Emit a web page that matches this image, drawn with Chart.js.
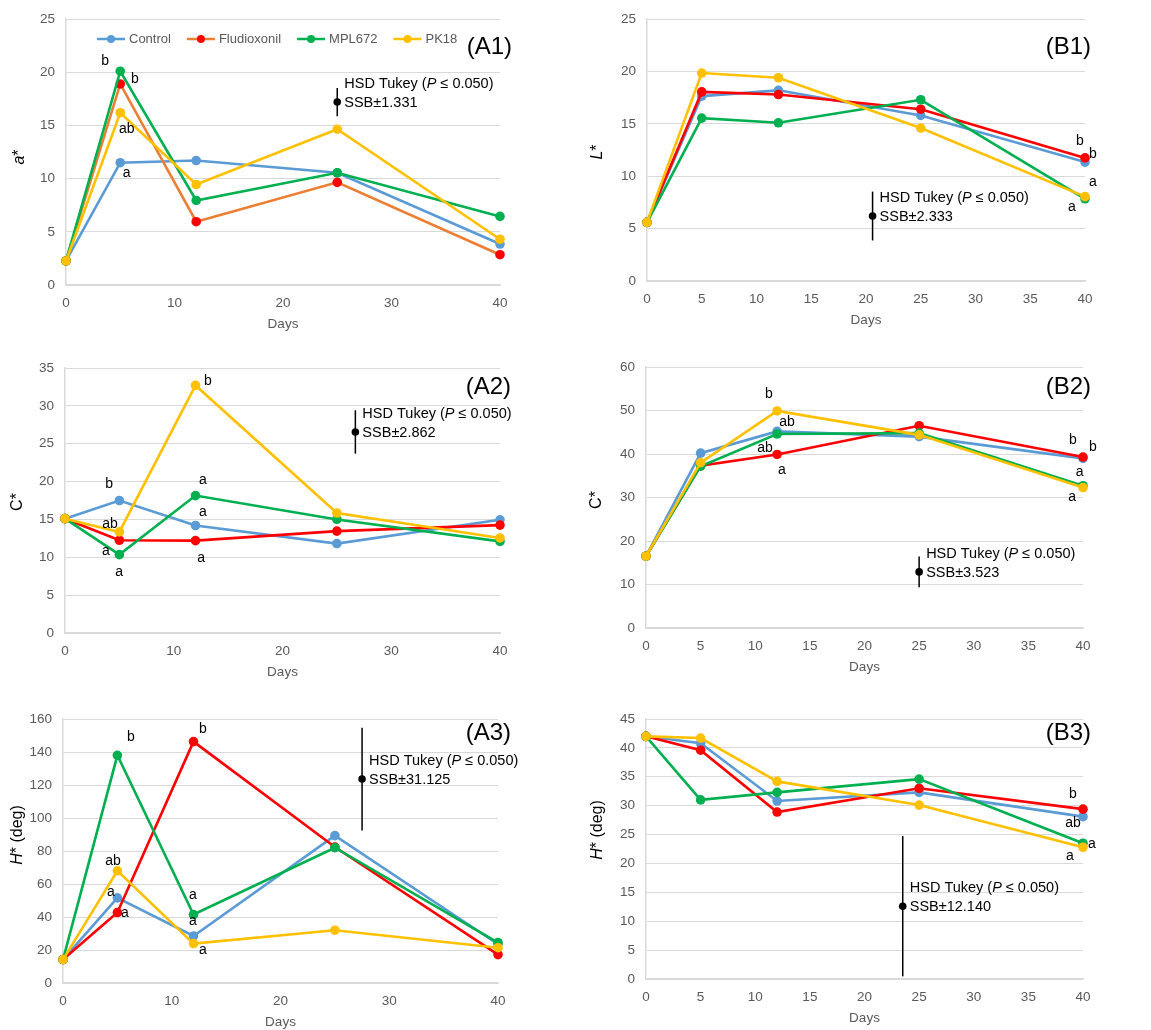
<!DOCTYPE html>
<html>
<head>
<meta charset="utf-8">
<script src="https://cdn.jsdelivr.net/npm/chart.js@4.4.1/dist/chart.umd.min.js"></script>
<style>
  html, body { margin: 0; padding: 0; background: #fff; }
  #fig { position: relative; width: 1151px; height: 1030px; background: #fff; overflow: hidden; }
  #fig canvas { position: absolute; }
</style>
</head>
<body>
<div id="fig"></div>
<script>
// Sampling days and treatments
const days = [0, 5, 12, 25, 40];
const treatments = ['Control', 'Fludioxonil', 'MPL672', 'PK18'];

// (A1) a*
const a_control     = [2.26, 11.5, 11.7, 10.55, 3.85];
const a_fludioxonil = [2.26, 18.9, 5.95, 9.65, 2.85];
const a_mpl672      = [2.26, 20.1, 7.95, 10.55, 6.45];
const a_pk18        = [2.26, 16.2, 9.45, 14.65, 4.3];

// (B1) L*
const l_control     = [5.6, 17.65, 18.2, 15.8, 11.35];
const l_fludioxonil = [5.6, 18.05, 17.8, 16.4, 11.75];
const l_mpl672      = [5.6, 15.55, 15.1, 17.3, 7.85];
const l_pk18        = [5.6, 19.85, 19.4, 14.6, 8.05];

// (A2) C*
const ca_control     = [15.1, 17.5, 14.2, 11.8, 14.95];
const ca_fludioxonil = [15.1, 12.25, 12.2, 13.45, 14.25];
const ca_mpl672      = [15.1, 10.35, 18.15, 15.0, 12.1];
const ca_pk18        = [15.1, 13.35, 32.7, 15.85, 12.55];

// (B2) C*
const cb_control     = [16.5, 40.2, 45.2, 44.0, 39.0];
const cb_fludioxonil = [16.5, 37.3, 39.9, 46.5, 39.3];
const cb_mpl672      = [16.5, 37.2, 44.6, 44.8, 32.7];
const cb_pk18        = [16.5, 38.0, 49.9, 44.4, 32.3];

// (A3) H* (deg)
const ha_control     = [14.2, 51.6, 28.5, 89.3, 23.5];
const ha_fludioxonil = [14.2, 42.7, 146.3, 82.4, 17.2];
const ha_mpl672      = [14.2, 138.0, 41.5, 82.0, 24.5];
const ha_pk18        = [14.2, 68.0, 23.9, 32.0, 21.4];

// (B3) H* (deg)
const hb_control     = [42.0, 40.8, 30.8, 32.3, 28.1];
const hb_fludioxonil = [42.0, 39.6, 28.9, 33.0, 29.4];
const hb_mpl672      = [42.0, 31.0, 32.3, 34.6, 23.5];
const hb_pk18        = [42.0, 41.7, 34.2, 30.1, 22.8];

// Panel order: A1, B1, A2, B2, A3, B3
const panelTags = ['(A1)', '(B1)', '(A2)', '(B2)', '(A3)', '(B3)'];
const yMaxima   = [25, 25, 35, 60, 160, 45];
const yStepsPer = [5, 5, 5, 10, 20, 5];
const xStepsPer = [10, 5, 10, 5, 10, 5];

// HSD Tukey (P <= 0.050) reference bars: position (day, value) and SSB half-width
const hsdDay  = [25, 20.6, 26.7, 25, 27.5, 23.5];
const hsdMean = [17.2, 6.2, 26.55, 12.9, 123.6, 12.6];
const ssb     = [1.331, 2.333, 2.862, 3.523, 31.125, 12.140];

// Significance letters: [day, value, letter]
const letters_A1 = [[3.6, 21.05, 'b'], [6.35, 19.35, 'b'], [5.6, 14.65, 'ab'], [5.6, 10.55, 'a']];
const letters_B1 = [[39.54, 13.36, 'b'], [40.73, 12.12, 'b'], [40.73, 9.45, 'a'], [38.8, 7.06, 'a']];
const letters_A2 = [[13.15, 33.3, 'b'], [4.05, 19.68, 'b'], [4.14, 14.4, 'ab'], [3.77, 10.83, 'a'],
                    [4.97, 8.06, 'a'], [12.69, 20.2, 'a'], [12.69, 15.98, 'a'], [12.51, 9.9, 'a']];
const letters_B2 = [[11.26, 53.8, 'b'], [12.9, 47.4, 'ab'], [10.9, 41.4, 'ab'], [12.45, 36.3, 'a'],
                    [39.08, 43.2, 'b'], [40.9, 41.6, 'b'], [39.7, 35.9, 'a'], [39.0, 30.1, 'a']];
const letters_A3 = [[6.25, 149.1, 'b'], [12.87, 153.9, 'b'], [4.6, 73.9, 'ab'], [4.41, 55.2, 'a'],
                    [5.7, 42.4, 'a'], [11.95, 53.3, 'a'], [11.95, 37.6, 'a'], [12.87, 20, 'a']];
const letters_B3 = [[39.08, 32.0, 'b'], [39.08, 27.0, 'ab'], [40.82, 23.4, 'a'], [38.8, 21.3, 'a']];

// ---------------------------------------------------------------------------
const FONT = '"Liberation Sans", Arial, Helvetica, sans-serif';
const seriesColors = ['#5B9BD5', '#FF0000', '#00B050', '#FFC000'];
const GRID = '#D9D9D9';
const TICK = '#595959';

// Layout of each panel: canvas cell and plot rectangle (page pixels)
const layout = [
  { cell: [0, 0, 575, 340],      plot: [66, 19, 500, 285],    tag: [512, 47],   ytitle: [20, 157] },
  { cell: [575, 0, 576, 340],    plot: [647, 19, 1085, 281],  tag: [1091, 47],  ytitle: [598, 152] },
  { cell: [0, 330, 575, 355],    plot: [65, 368, 500, 633],   tag: [511, 387],  ytitle: [18, 502] },
  { cell: [575, 330, 576, 355],  plot: [646, 367, 1083, 628], tag: [1091, 387], ytitle: [597, 500] },
  { cell: [0, 670, 575, 360],    plot: [63, 719, 498, 983],   tag: [511, 733],  ytitle: [18, 835] },
  { cell: [575, 670, 576, 360],  plot: [646, 719, 1083, 979], tag: [1091, 733], ytitle: [598, 830] }
];

const panels = [
  { series: [a_control, a_fludioxonil, a_mpl672, a_pk18], letters: letters_A1,
    ytitle: [['a', 'italic'], ['*', 'normal']], legend: true, lineOverride: { 1: '#ED7D31' } },
  { series: [l_control, l_fludioxonil, l_mpl672, l_pk18], letters: letters_B1,
    ytitle: [['L', 'italic'], ['*', 'normal']] },
  { series: [ca_control, ca_fludioxonil, ca_mpl672, ca_pk18], letters: letters_A2,
    ytitle: [['C*', 'normal']] },
  { series: [cb_control, cb_fludioxonil, cb_mpl672, cb_pk18], letters: letters_B2,
    ytitle: [['C*', 'normal']] },
  { series: [ha_control, ha_fludioxonil, ha_mpl672, ha_pk18], letters: letters_A3,
    ytitle: [['H', 'italic'], ['* (deg)', 'normal']] },
  { series: [hb_control, hb_fludioxonil, hb_mpl672, hb_pk18], letters: letters_B3,
    ytitle: [['H', 'italic'], ['* (deg)', 'normal']] }
];

// Draws letters, the HSD bar, panel tag, y title and (for A1) the legend
const decorations = {
  id: 'decorations',
  afterDatasetsDraw(chart, args, opts) {
    const { ctx, scales: { x, y } } = chart;
    const p = opts.panel, L = opts.layout, idx = opts.index;
    const ox = L.cell[0], oy = L.cell[1];
    ctx.save();

    // significance letters
    ctx.fillStyle = '#000';
    ctx.font = '14px ' + FONT;
    ctx.textAlign = 'center';
    ctx.textBaseline = 'middle';
    p.letters.forEach(([d, v, t]) => ctx.fillText(t, x.getPixelForValue(d), y.getPixelForValue(v)));

    // HSD reference bar (mean +/- SSB)
    const hx = x.getPixelForValue(hsdDay[idx]);
    const hy = y.getPixelForValue(hsdMean[idx]);
    const top = y.getPixelForValue(hsdMean[idx] + ssb[idx]);
    const bot = y.getPixelForValue(hsdMean[idx] - ssb[idx]);
    ctx.strokeStyle = '#000';
    ctx.lineWidth = 1.5;
    ctx.beginPath(); ctx.moveTo(hx, top); ctx.lineTo(hx, bot); ctx.stroke();
    ctx.beginPath(); ctx.arc(hx, hy, 3.8, 0, Math.PI * 2); ctx.fill();

    ctx.textAlign = 'left';
    let tx = hx + 7;
    const ty = hy - 18;
    const parts = [['HSD Tukey (', 'normal'], ['P', 'italic'], [' \u2264 0.050)', 'normal']];
    parts.forEach(([s, st]) => {
      ctx.font = (st === 'italic' ? 'italic ' : '') + '14.5px ' + FONT;
      ctx.fillText(s, tx, ty);
      tx += ctx.measureText(s).width;
    });
    ctx.font = '14.5px ' + FONT;
    ctx.fillText('SSB\u00B1' + ssb[idx].toFixed(3), hx + 7, hy + 1);

    // panel tag
    ctx.font = '24px ' + FONT;
    ctx.textAlign = 'right';
    ctx.fillText(panelTags[idx], L.tag[0] - ox, L.tag[1] - oy);

    // y-axis title (rotated, mixed italic)
    ctx.save();
    ctx.translate(L.ytitle[0] - ox, L.ytitle[1] - oy);
    ctx.rotate(-Math.PI / 2);
    ctx.textAlign = 'left';
    let total = 0;
    p.ytitle.forEach(([s, st]) => {
      ctx.font = (st === 'italic' ? 'italic ' : '') + '16px ' + FONT;
      total += ctx.measureText(s).width;
    });
    let px = -total / 2;
    p.ytitle.forEach(([s, st]) => {
      ctx.font = (st === 'italic' ? 'italic ' : '') + '16px ' + FONT;
      ctx.fillText(s, px, 0);
      px += ctx.measureText(s).width;
    });
    ctx.restore();

    // legend
    if (p.legend) {
      let lx = 97 - ox;
      const ly = 39 - oy;
      ctx.font = '13px ' + FONT;
      ctx.textAlign = 'left';
      chart.data.datasets.forEach(ds => {
        ctx.strokeStyle = ds.borderColor;
        ctx.lineWidth = 2.5;
        ctx.beginPath(); ctx.moveTo(lx, ly); ctx.lineTo(lx + 28, ly); ctx.stroke();
        ctx.fillStyle = ds.pointBackgroundColor;
        ctx.beginPath(); ctx.arc(lx + 14, ly, 4, 0, Math.PI * 2); ctx.fill();
        ctx.fillStyle = TICK;
        ctx.fillText(ds.label, lx + 32, ly);
        lx += 32 + ctx.measureText(ds.label).width + 16;
      });
    }
    ctx.restore();
  }
};

const fig = document.getElementById('fig');

panels.forEach((p, idx) => {
  const L = layout[idx];
  const [cx, cy, cw, ch] = L.cell;
  const [pl, pt, pr, pb] = L.plot;
  const canvas = document.createElement('canvas');
  canvas.width = cw; canvas.height = ch;
  canvas.style.left = cx + 'px'; canvas.style.top = cy + 'px';
  canvas.style.width = cw + 'px'; canvas.style.height = ch + 'px';
  fig.appendChild(canvas);

  const yAxisWidth = pl - cx;
  const xAxisHeight = 47;
  const padTop = pt - cy;
  const padRight = cx + cw - pr;
  const padBottom = cy + ch - pb - xAxisHeight;

  const datasets = p.series.map((vals, i) => {
    const line = (p.lineOverride && p.lineOverride[i]) || seriesColors[i];
    return {
      label: treatments[i],
      data: days.map((d, k) => ({ x: d, y: vals[k] })),
      borderColor: line,
      backgroundColor: seriesColors[i],
      pointBackgroundColor: seriesColors[i],
      pointBorderColor: seriesColors[i],
      pointRadius: 4.8,
      pointBorderWidth: 0,
      borderWidth: 2.6,
      tension: 0,
      fill: false,
      clip: false,
      order: 4 - i
    };
  });

  new Chart(canvas, {
    type: 'line',
    data: { datasets },
    options: {
      responsive: false,
      animation: false,
      devicePixelRatio: 1,
      events: [],
      layout: { padding: { left: 0, top: padTop, right: padRight, bottom: padBottom } },
      plugins: {
        legend: { display: false },
        tooltip: { enabled: false },
        decorations: { panel: p, layout: L, index: idx }
      },
      scales: {
        x: {
          type: 'linear', min: 0, max: 40,
          ticks: { stepSize: xStepsPer[idx], color: TICK, font: { family: FONT, size: 13.5 },
                   padding: 10, maxRotation: 0, autoSkip: false },
          grid: { display: false, drawTicks: false },
          border: { display: true, color: GRID, width: 1.5 },
          title: { display: true, text: 'Days', color: TICK, font: { family: FONT, size: 13.5 },
                   padding: 0 },
          afterFit: s => { s.height = xAxisHeight; }
        },
        y: {
          type: 'linear', min: 0, max: yMaxima[idx],
          ticks: { stepSize: yStepsPer[idx], color: TICK, font: { family: FONT, size: 13.5 }, padding: 11 },
          grid: { color: GRID, lineWidth: 1, drawTicks: false },
          border: { display: true, color: GRID, width: 1.5 },
          afterFit: s => { s.width = yAxisWidth; }
        }
      }
    },
    plugins: [decorations]
  });
});
</script>
</body>
</html>
